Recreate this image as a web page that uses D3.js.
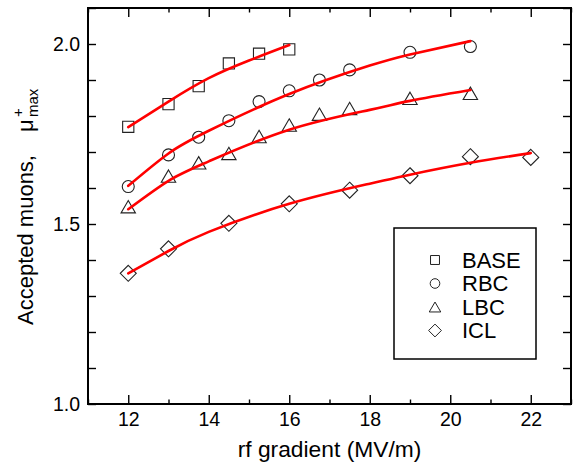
<!DOCTYPE html>
<html>
<head>
<meta charset="utf-8">
<script src="https://cdn.jsdelivr.net/npm/d3@7"></script>
<style>
  body { margin: 0; background: #fff; }
</style>
</head>
<body>
<script>
// measured points (rf gradient in MV/m, accepted muons)
const gradBase = [12, 13, 13.75, 14.5, 15.25, 16];
const muBase = [1.770, 1.833, 1.883, 1.946, 1.973, 1.985];
const gradBC = [12, 13, 13.75, 14.5, 15.25, 16, 16.75, 17.5, 19, 20.5];
const muRBC = [1.604, 1.692, 1.741, 1.787, 1.840, 1.870, 1.900, 1.928, 1.977, 1.993];
const muLBC = [1.548, 1.633, 1.670, 1.696, 1.743, 1.775, 1.805, 1.821, 1.849, 1.863];
const gradICL = [12, 13, 14.5, 16, 17.5, 19, 20.5, 22];
const muICL = [1.363, 1.431, 1.502, 1.556, 1.594, 1.634, 1.687, 1.685];

// red fit curves
const fitGradBase = [12, 13, 14, 15, 16];
const fitBase = [1.769, 1.840, 1.905, 1.954, 1.997];
const fitGradBC = [12, 13, 14, 16, 18, 19, 20.5];
const fitRBC = [1.606, 1.696, 1.759, 1.861, 1.940, 1.971, 2.008];
const fitLBC = [1.541, 1.620, 1.674, 1.762, 1.817, 1.842, 1.872];
const fitGradICL = [12, 13, 14, 16, 18, 19, 20.5, 22];
const fitICL = [1.363, 1.425, 1.478, 1.556, 1.612, 1.637, 1.670, 1.697];

const seriesNames = ['BASE', 'RBC', 'LBC', 'ICL'];
const xMajor = [12, 14, 16, 18, 20, 22];
const xMinor = [11, 13, 15, 17, 19, 21, 23];
const yMajor = [1.0, 1.5, 2.0];
const yMinor = [1.1, 1.2, 1.3, 1.4, 1.6, 1.7, 1.8, 1.9, 2.1];

const width = 574, height = 466;
const margin = {top: 8, right: 3, bottom: 62, left: 88};
const font = '"Liberation Sans", Helvetica, Arial, sans-serif';

const x = d3.scaleLinear().domain([11, 23]).range([margin.left, width - margin.right]);
const y = d3.scaleLinear().domain([1.0, 2.1]).range([height - margin.bottom, margin.top]);

const shapes = ['square', 'circle', 'triangle', 'diamond'];
const series = [
  {pts: d3.zip(gradBase, muBase), fit: d3.zip(fitGradBase, fitBase)},
  {pts: d3.zip(gradBC, muRBC), fit: d3.zip(fitGradBC, fitRBC)},
  {pts: d3.zip(gradBC, muLBC), fit: d3.zip(fitGradBC, fitLBC)},
  {pts: d3.zip(gradICL, muICL), fit: d3.zip(fitGradICL, fitICL)}
].map((s, i) => ({...s, name: seriesNames[i], shape: shapes[i]}));

const marker = (shape, k = 1) => {
  if (shape === 'square') {
    const h = 5.6 * k;
    return `M${-h},${-h}H${h}V${h}H${-h}Z`;
  }
  if (shape === 'circle') {
    const r = 6 * k;
    return `M${r},0A${r},${r} 0 1,1 ${-r},0A${r},${r} 0 1,1 ${r},0Z`;
  }
  if (shape === 'triangle') {
    const w = 7.2 * k, h = 6.2 * k;
    return `M0,${-h}L${w},${h}L${-w},${h}Z`;
  }
  const d = 8 * k;
  return `M0,${-d}L${d},0L0,${d}L${-d},0Z`;
};

const svg = d3.select('body').append('svg')
  .attr('width', width)
  .attr('height', height)
  .attr('viewBox', [0, 0, width, height])
  .style('font-family', font);

// axes, ticks pointing inward on all four sides
const styleAxis = g => g
  .call(g => g.select('.domain').remove())
  .call(g => g.selectAll('line').attr('stroke', '#000').attr('stroke-width', 1.4))
  .attr('font-family', font)
  .attr('font-size', 19.5)
  .call(g => g.selectAll('text').attr('fill', '#000'));

svg.append('g')
  .attr('transform', `translate(0,${y(1.0)})`)
  .call(d3.axisBottom(x).tickValues(xMajor).tickSize(-9).tickPadding(8.5).tickFormat(d3.format('d')))
  .call(styleAxis);
svg.append('g')
  .attr('transform', `translate(0,${y(1.0)})`)
  .call(d3.axisBottom(x).tickValues(xMinor).tickSize(-4.5).tickFormat(''))
  .call(styleAxis);
svg.append('g')
  .attr('transform', `translate(0,${y(2.1)})`)
  .call(d3.axisTop(x).tickValues(xMajor).tickSize(-9).tickFormat(''))
  .call(styleAxis);
svg.append('g')
  .attr('transform', `translate(0,${y(2.1)})`)
  .call(d3.axisTop(x).tickValues(xMinor).tickSize(-4.5).tickFormat(''))
  .call(styleAxis);

svg.append('g')
  .attr('transform', `translate(${x(11)},0)`)
  .call(d3.axisLeft(y).tickValues(yMajor).tickSize(-8).tickPadding(8).tickFormat(d3.format('.1f')))
  .call(styleAxis);
svg.append('g')
  .attr('transform', `translate(${x(11)},0)`)
  .call(d3.axisLeft(y).tickValues(yMinor).tickSize(-8).tickFormat(''))
  .call(styleAxis);
svg.append('g')
  .attr('transform', `translate(${x(23)},0)`)
  .call(d3.axisRight(y).tickValues(yMajor.concat(yMinor)).tickSize(-8).tickFormat(''))
  .call(styleAxis);

// frame
svg.append('rect')
  .attr('x', x(11))
  .attr('y', y(2.1))
  .attr('width', x(23) - x(11))
  .attr('height', y(1.0) - y(2.1))
  .attr('fill', 'none')
  .attr('stroke', '#000')
  .attr('stroke-width', 2);

// markers
const gPts = svg.append('g');
for (const s of series) {
  gPts.selectAll(null)
    .data(s.pts)
    .join('path')
    .attr('transform', d => `translate(${x(d[0])},${y(d[1])})`)
    .attr('d', marker(s.shape))
    .attr('fill', 'none')
    .attr('stroke', '#222')
    .attr('stroke-width', 1.1);
}

// fits
const line = d3.line()
  .x(d => x(d[0]))
  .y(d => y(d[1]))
  .curve(d3.curveNatural);

svg.append('g')
  .selectAll('path')
  .data(series)
  .join('path')
  .attr('d', d => line(d.fit))
  .attr('fill', 'none')
  .attr('stroke', '#ff0000')
  .attr('stroke-width', 2.6)
  .attr('stroke-linecap', 'round');

// legend
const legend = svg.append('g');
legend.append('rect')
  .attr('x', 394)
  .attr('y', 228)
  .attr('width', 142)
  .attr('height', 131)
  .attr('fill', '#fff')
  .attr('stroke', '#000')
  .attr('stroke-width', 1.5);

const item = legend.selectAll('g.item')
  .data(series)
  .join('g')
  .attr('class', 'item')
  .attr('transform', (d, i) => `translate(435,${260 + i * 23.5})`);
item.append('path')
  .attr('d', d => marker(d.shape, 0.8))
  .attr('fill', 'none')
  .attr('stroke', '#222')
  .attr('stroke-width', 1);
item.append('text')
  .attr('x', 27)
  .attr('dy', '0.36em')
  .attr('font-size', 22)
  .text(d => d.name);

// axis titles
svg.append('text')
  .attr('x', (x(11) + x(23)) / 2)
  .attr('y', 457)
  .attr('text-anchor', 'middle')
  .attr('font-size', 22.8)
  .text('rf gradient (MV/m)');

const yt = svg.append('g')
  .attr('transform', 'translate(33,325) rotate(-90)')
  .attr('font-size', 22);
yt.append('text').text('Accepted muons,');
yt.append('text').attr('x', 193).text('\u03bc');
yt.append('text').attr('x', 208).attr('y', -10).attr('font-size', 15).text('+');
yt.append('text').attr('x', 208).attr('y', 5).attr('font-size', 15).text('max');
</script>
</body>
</html>
